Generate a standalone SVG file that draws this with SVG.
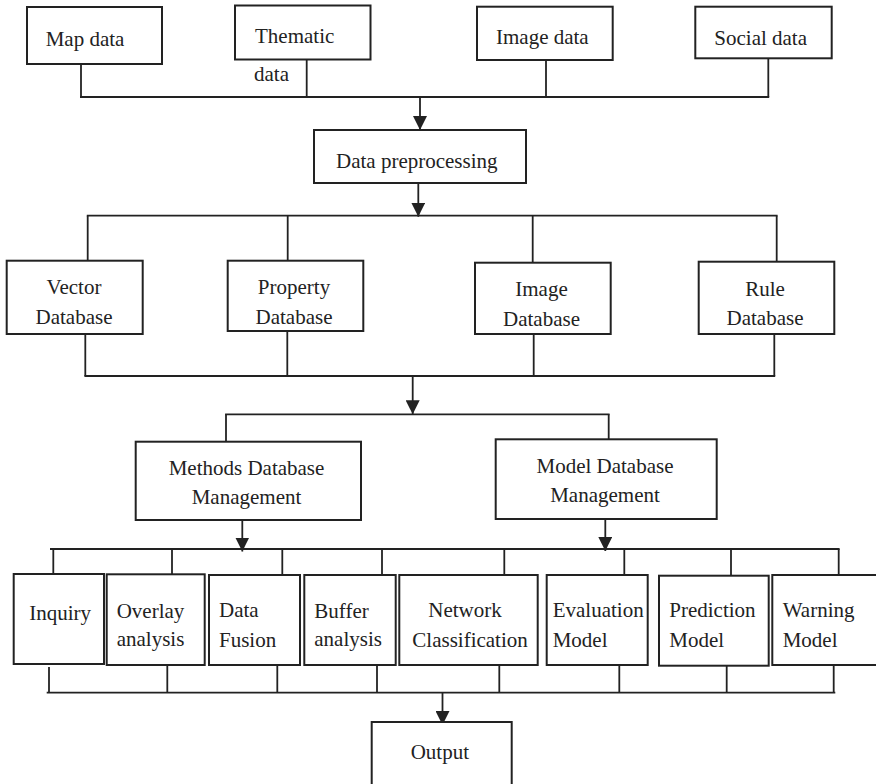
<svg xmlns="http://www.w3.org/2000/svg" width="876" height="784" viewBox="0 0 876 784">
<style>
rect{fill:#fff;stroke:#222;stroke-width:2}
text{font-family:"Liberation Serif","Times New Roman",serif;font-size:21px;fill:#222}
.c text,.m{text-anchor:middle}
#connectors line{stroke:#222;stroke-width:1.8;fill:none}
</style>
<defs>
<marker id="ah" viewBox="0 0 14 14" refX="14" refY="7" markerWidth="14" markerHeight="14" markerUnits="userSpaceOnUse" orient="auto">
<path d="M0,0 L14,7 L0,14 z" fill="#222"/>
</marker>
</defs>
<g id="connectors">
<line x1="81" y1="64" x2="81" y2="97"/>
<line x1="306.7" y1="60" x2="306.7" y2="97"/>
<line x1="546" y1="60" x2="546" y2="97"/>
<line x1="768.3" y1="58" x2="768.3" y2="97"/>
<line x1="80" y1="97" x2="769.2" y2="97"/>
<line x1="420" y1="97" x2="420" y2="130" marker-end="url(#ah)"/>
<line x1="418.3" y1="183" x2="418.3" y2="216.7" marker-end="url(#ah)"/>
<line x1="86.8" y1="215.7" x2="777.6" y2="215.7"/>
<line x1="87.7" y1="215.7" x2="87.7" y2="260.7"/>
<line x1="287.7" y1="215.7" x2="287.7" y2="260.7"/>
<line x1="532.7" y1="215.7" x2="532.7" y2="262.7"/>
<line x1="776.7" y1="215.7" x2="776.7" y2="261.7"/>
<line x1="85.3" y1="334" x2="85.3" y2="376"/>
<line x1="287.3" y1="331" x2="287.3" y2="376"/>
<line x1="533.7" y1="334" x2="533.7" y2="376"/>
<line x1="774.3" y1="334" x2="774.3" y2="376"/>
<line x1="84.4" y1="376" x2="775.2" y2="376"/>
<line x1="412.7" y1="376" x2="412.7" y2="414.3" marker-end="url(#ah)"/>
<line x1="225.1" y1="414.3" x2="609.6" y2="414.3"/>
<line x1="226" y1="414.3" x2="226" y2="441.7"/>
<line x1="608.7" y1="414.3" x2="608.7" y2="439.3"/>
<line x1="242.3" y1="520" x2="242.3" y2="551.5" marker-end="url(#ah)"/>
<line x1="605.3" y1="519" x2="605.3" y2="551" marker-end="url(#ah)"/>
<line x1="50" y1="549" x2="839.6" y2="549"/>
<line x1="53.3" y1="549" x2="53.3" y2="574"/>
<line x1="172" y1="549" x2="172" y2="574"/>
<line x1="282.3" y1="549" x2="282.3" y2="575"/>
<line x1="382" y1="549" x2="382" y2="575"/>
<line x1="504.3" y1="549" x2="504.3" y2="575"/>
<line x1="624.3" y1="549" x2="624.3" y2="575"/>
<line x1="731" y1="549" x2="731" y2="575"/>
<line x1="838.7" y1="549" x2="838.7" y2="575"/>
<line x1="49" y1="667" x2="49" y2="692.7"/>
<line x1="167.3" y1="665" x2="167.3" y2="692.7"/>
<line x1="277.3" y1="665" x2="277.3" y2="692.7"/>
<line x1="377" y1="665" x2="377" y2="692.7"/>
<line x1="499.3" y1="665" x2="499.3" y2="692.7"/>
<line x1="619.3" y1="665" x2="619.3" y2="692.7"/>
<line x1="726.7" y1="665" x2="726.7" y2="692.7"/>
<line x1="833.7" y1="665" x2="833.7" y2="692.7"/>
<line x1="46.7" y1="692.7" x2="835.3" y2="692.7"/>
<line x1="442.5" y1="692.7" x2="442.5" y2="725" marker-end="url(#ah)"/>
</g>
<g id="map-data"><rect x="27" y="7" width="135" height="57"/><text x="45.7" y="45.7">Map data</text></g>
<g id="thematic-data"><rect x="235" y="5.5" width="135.5" height="54"/><text x="255" y="43.3">Thematic</text><text x="254" y="81">data</text></g>
<g id="image-data"><rect x="477" y="6.7" width="135.7" height="53.3"/><text x="496" y="44.3">Image data</text></g>
<g id="social-data"><rect x="695.3" y="6.7" width="136.4" height="51.6"/><text x="714.3" y="45">Social data</text></g>
<g id="data-preprocessing"><rect x="314" y="130" width="212" height="53"/><text x="336" y="167.5">Data preprocessing</text></g>
<g id="vector-db" class="c"><rect x="6.7" y="260.7" width="136" height="73.3"/><text x="74" y="294">Vector</text><text x="74" y="324">Database</text></g>
<g id="property-db" class="c"><rect x="227.7" y="260.7" width="135.6" height="70.3"/><text x="294" y="293.5">Property</text><text x="294" y="324">Database</text></g>
<g id="image-db" class="c"><rect x="475" y="262.7" width="135.7" height="71.3"/><text x="541.5" y="296">Image</text><text x="541.5" y="326">Database</text></g>
<g id="rule-db" class="c"><rect x="698.7" y="261.7" width="135.6" height="72.3"/><text x="765" y="296">Rule</text><text x="765" y="325">Database</text></g>
<g id="methods-db" class="c"><rect x="135.7" y="441.7" width="225.3" height="78.3"/><text x="246.5" y="475">Methods Database</text><text x="246.5" y="504">Management</text></g>
<g id="model-db" class="c"><rect x="495.7" y="439.3" width="221" height="79.7"/><text x="605" y="472.7">Model Database</text><text x="605" y="501.7">Management</text></g>
<g id="inquiry"><rect x="13.7" y="574" width="90.3" height="90"/><text x="29.3" y="620">Inquiry</text></g>
<g id="overlay"><rect x="106.7" y="574.3" width="98" height="90.7"/><text x="116.7" y="617.7">Overlay</text><text x="116.7" y="645.7">analysis</text></g>
<g id="data-fusion"><rect x="209" y="575" width="91" height="90"/><text x="219" y="617.3">Data</text><text x="219" y="646.7">Fusion</text></g>
<g id="buffer"><rect x="304.3" y="575" width="91.4" height="90"/><text x="314.3" y="617.7">Buffer</text><text x="314.3" y="646">analysis</text></g>
<g id="network"><rect x="399.3" y="575" width="138.4" height="90"/><text x="428.3" y="617.3">Network</text><text x="412.3" y="646.7">Classification</text></g>
<g id="evaluation"><rect x="546.7" y="575" width="101" height="90"/><text x="552.7" y="617.3">Evaluation</text><text x="552.7" y="646.7">Model</text></g>
<g id="prediction"><rect x="659" y="575.7" width="109.7" height="90"/><text x="669.3" y="617.3">Prediction</text><text x="669.3" y="646.7">Model</text></g>
<g id="warning"><rect x="772.3" y="575" width="110" height="90"/><text x="782.7" y="617.3">Warning</text><text x="782.7" y="646.7">Model</text></g>
<g id="output"><rect x="371.7" y="722" width="140" height="70"/><text x="410.7" y="758.7">Output</text></g>
</svg>
